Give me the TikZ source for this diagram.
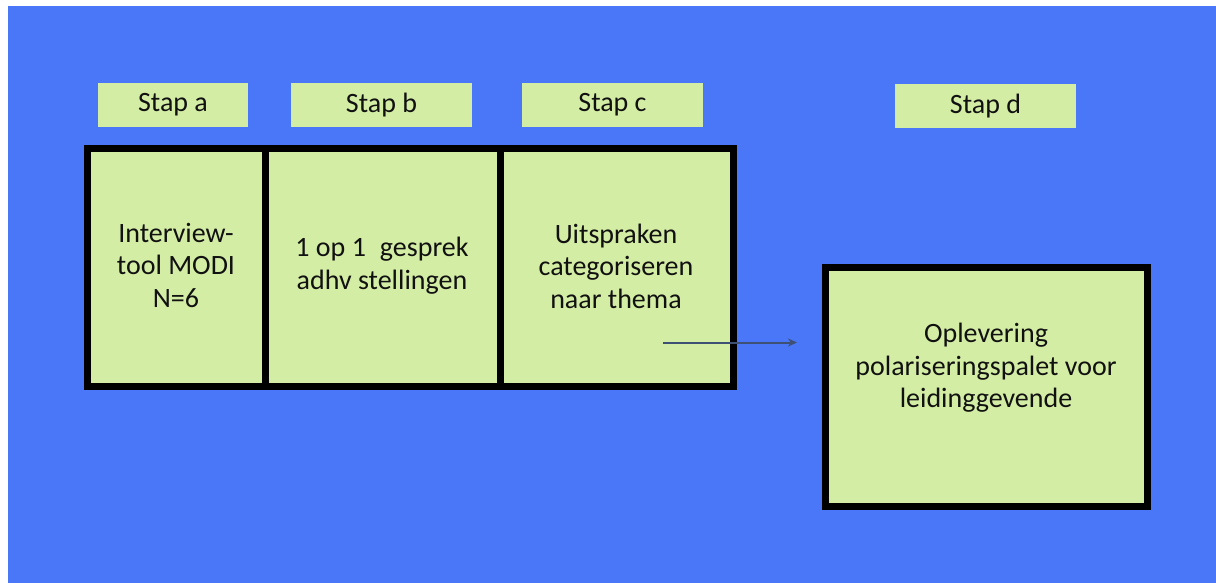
\documentclass[tikz,border=0pt]{standalone}
\usepackage{fontspec}
\setmainfont{Carlito}
\usetikzlibrary{arrows.meta}
\definecolor{bgblue}{HTML}{4A77F8}
\definecolor{leaf}{HTML}{D4EDA5}
\definecolor{arrowgray}{HTML}{3E5073}
\definecolor{ink}{HTML}{111111}
\begin{document}
\begin{tikzpicture}[x=1pt,y=-1pt,
  stapbox/.style={fill=leaf, draw=none, minimum width=#1, minimum height=44pt, inner sep=0pt,
    text=ink, font=\fontsize{28}{32}\selectfont},
  stagebox/.style={fill=leaf, draw=black, line width=7pt},
  boxtext/.style={align=center, text=ink, font=\fontsize{28}{32.5}\selectfont, inner sep=0pt}
]
\useasboundingbox (0,0) rectangle (1216,583);
\fill[white] (0,0) rectangle (1216,583);
\fill[bgblue] (8,6) rectangle (1216,583);

% step labels
\node[stapbox=150pt] (sa) at (173,105) {Stap a};
\node[stapbox=181pt] (sb) at (381.5,105) {Stap b};
\node[stapbox=181pt] (sc) at (612.5,105) {Stap c};
\node[stapbox=181pt] (sd) at (985.5,106) {Stap d};

% stage boxes
\draw[stagebox] (87.5,149) rectangle (265,386.5);
\draw[stagebox] (265,149) rectangle (500,386.5);
\draw[stagebox] (500,149) rectangle (733.5,386.5);
\draw[stagebox] (825.5,267) rectangle (1147,506.5);

\node[boxtext] (ta) at (176,265) {Interview-\\tool MODI\\N=6};
\node[boxtext] (tb) at (382,265.5) {1 op 1\hspace{0.5em}gesprek\\adhv stellingen};
\node[boxtext] (tc) at (616,266) {Uitspraken\\categoriseren\\naar thema};
\node[boxtext] (td) at (986,368) {Oplevering\\polariseringspalet voor\\leidinggevende};

\coordinate (from) at (663,342.5);
\coordinate (to) at (797,342.5);
\draw[arrowgray, line width=2pt, -{Stealth[length=9pt,width=8pt]}] (from) -- (to);
\end{tikzpicture}
\end{document}
